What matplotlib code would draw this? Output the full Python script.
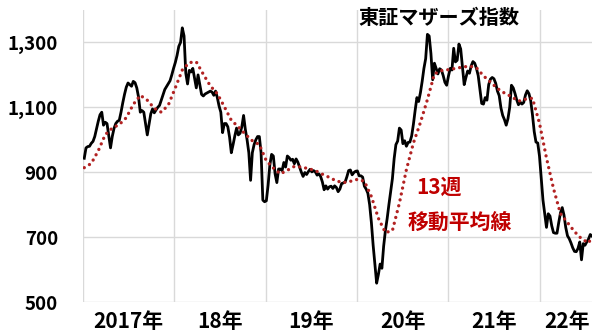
import matplotlib
matplotlib.use("Agg")
import matplotlib.pyplot as plt
import matplotlib.transforms as mtransforms
import pandas as pd

plt.rcParams['font.family'] = ['Noto Sans CJK JP', 'DejaVu Sans']

# weekly closes of the TSE Mothers index
index_values = [
    943, 975, 979, 980, 989, 995, 1010, 1033, 1057, 1077,
    1085, 1045, 1054, 1050, 1012, 975, 1010, 1035, 1050, 1057,
    1060, 1085, 1114, 1140, 1162, 1175, 1170, 1165, 1180, 1176,
    1160, 1132, 1085, 1090, 1085, 1050, 1015, 1048, 1080, 1095,
    1083, 1092, 1100, 1106, 1122, 1138, 1155, 1164, 1173, 1182,
    1200, 1220, 1238, 1260, 1288, 1300, 1345, 1320, 1205, 1172,
    1214, 1209, 1220, 1190, 1160, 1200, 1170, 1140, 1135, 1141,
    1144, 1147, 1150, 1147, 1137, 1150, 1130, 1104, 1085, 1022,
    1050, 1050, 1040, 1008, 960, 985, 1012, 1036, 1015, 1020,
    1040, 1075, 1032, 1000, 960, 875, 960, 985, 1000, 1010,
    1010, 960, 814, 809, 812, 860, 922, 955, 950, 895,
    868, 910, 910, 905, 930, 916, 950, 945, 937, 940,
    926, 941, 931, 915, 900, 887, 899, 893, 902, 909,
    901, 905, 901, 891, 895, 887, 870, 846, 858, 848,
    855, 857, 850, 858, 853, 840, 848, 865, 867, 870,
    886, 905, 907, 892, 899, 903, 904, 889, 889, 885,
    857, 848, 835, 800, 745, 675, 615, 558, 585, 617,
    604, 672, 720, 757, 800, 839, 880, 942, 985, 996,
    1036, 1030, 988, 997, 980, 992, 993, 1012, 1048, 1091,
    1130, 1118, 1145, 1180, 1220, 1250, 1325, 1320, 1266, 1185,
    1236, 1220, 1203, 1219, 1215, 1198, 1177, 1168, 1196, 1220,
    1215, 1282, 1240, 1245, 1295, 1280, 1225, 1170, 1192, 1212,
    1205, 1228, 1241, 1236, 1220, 1198, 1155, 1112, 1110, 1130,
    1122, 1170, 1187, 1192, 1188, 1174, 1150, 1136, 1098, 1075,
    1062, 1045, 1065, 1100, 1168, 1160, 1143, 1123, 1108, 1116,
    1110, 1115, 1138, 1151, 1142, 1120, 1077, 1025, 993, 990,
    950, 880, 814, 771, 730, 772, 765, 735, 714, 712,
    712, 745, 775, 791, 768, 730, 704, 695, 682, 667,
    656, 655, 665, 685, 630, 680, 675, 685, 694, 708,
    703,
]

# 13-week moving average, read every 4 weeks (plus the last week)
ma_values = [
    914, 927, 966, 1016, 1036, 1047, 1068, 1109, 1137, 1122,
    1097, 1085, 1107, 1160, 1215, 1238, 1240, 1202, 1166, 1142,
    1102, 1060, 1040, 1017, 997, 985, 935, 913, 895, 906,
    918, 916, 911, 905, 894, 884, 873, 868, 872, 878,
    872, 825, 758, 714, 720, 805, 908, 990, 1053, 1124,
    1203, 1213, 1216, 1220, 1224, 1227, 1222, 1197, 1178, 1158,
    1144, 1133, 1119, 1125, 1128, 1051, 944, 850, 772, 745,
    717, 695, 682, 700,
]

years = [2017, 2018, 2019, 2020, 2021, 2022]
year_labels = ['2017年', '18年', '19年', '20年', '21年', '22年']
y_ticks = [500, 700, 900, 1100, 1300]

dates = pd.date_range('2017-01-06', periods=len(index_values), freq='7D')
ma_dates = dates[::4].append(dates[-1:])

fig = plt.figure(figsize=(6, 3.33), dpi=100)
ax = fig.add_axes([83 / 600, 1 - 302 / 333, 509 / 600, 292 / 333])

ax.plot(dates, index_values, color='black', lw=2.0, zorder=3)
ax.plot(ma_dates, ma_values, color='#b22222', lw=2.4,
        linestyle=(0, (0.01, 1.8)), dash_capstyle='round', zorder=4)

x_start = pd.Timestamp('2017-01-01')
x_end = dates[-1]
ax.set_xlim(x_start, x_end)
ax.set_ylim(500, 1400)

year_starts = [pd.Timestamp(f'{y}-01-01') for y in years]
ax.set_xticks(year_starts)
ax.set_xticklabels([])
ax.set_yticks(y_ticks)
ax.set_yticklabels([f'{v:,}' for v in y_ticks], fontsize=13.5, fontweight='bold')
ax.tick_params(axis='both', length=0)
ax.tick_params(axis='y', pad=18)
ax.grid(True, color='#d9d9d9', lw=1.0, zorder=0)
for s in ax.spines.values():
    s.set_visible(False)

# year labels centred in each year span
trans = mtransforms.blended_transform_factory(ax.transData, ax.transAxes)
for i, lab in enumerate(year_labels):
    left = year_starts[i]
    right = year_starts[i + 1] if i + 1 < len(year_starts) else x_end + pd.Timedelta(days=10)
    mid = left + (right - left) / 2
    ax.text(mid, -0.068, lab, transform=trans, ha='center', va='center',
            fontsize=15, fontweight='bold')

fig.text(439 / 600, 1 - 17 / 333, '東証マザーズ指数', ha='center', va='center',
         fontsize=14.5, fontweight='bold')
fig.text(439 / 600, 1 - 187 / 333, '13週', ha='center', va='center',
         fontsize=15, fontweight='bold', color='#c00000')
fig.text(460 / 600, 1 - 222 / 333, '移動平均線', ha='center', va='center',
         fontsize=15, fontweight='bold', color='#c00000')

fig.savefig('out.png', dpi=100)
